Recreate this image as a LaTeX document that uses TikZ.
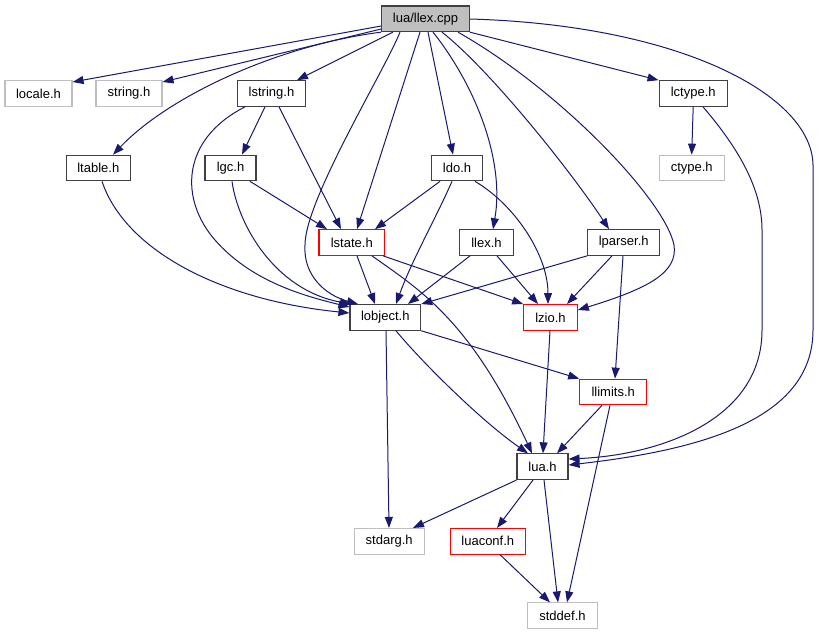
\documentclass[tikz,border=0pt]{standalone}
\usepackage{fontspec}
\setmainfont{Liberation Sans}
\usetikzlibrary{arrows.meta}
\definecolor{edgeblue}{HTML}{191970}
\definecolor{darkborder}{HTML}{404040}
\definecolor{lightborder}{HTML}{BFBFBF}
\definecolor{redborder}{HTML}{FF0000}
\definecolor{rootfill}{HTML}{BFBFBF}
\begin{document}
\begin{tikzpicture}[x=1pt,y=-1pt,
  box/.style={draw=darkborder, fill=white, line width=1.1pt, inner sep=0pt,
    minimum height=25.6pt, font=\fontsize{13}{15}\selectfont},
  redbox/.style={box, draw=redborder},
  graybox/.style={box, draw=lightborder},
  rootbox/.style={box, fill=rootfill},
  edge/.style={draw=edgeblue, line width=1pt, -{Triangle[length=11pt,width=8pt]}}]
\useasboundingbox (0,0) rectangle (819,635);
\fill[white] (0,0) rectangle (819,635);
% nodes
\node[rootbox, minimum width=87.6pt] (root) at (425.5,18.8) {lua/llex.cpp};
\node[graybox, minimum width=67pt] (locale) at (38.5,93.5) {locale.h};
\node[graybox, minimum width=66pt] (string) at (129,93.5) {string.h};
\node[box, minimum width=68.4pt] (lstring) at (271.5,93.5) {lstring.h};
\node[box, minimum width=68.3pt] (lctype) at (693.2,93.5) {lctype.h};
\node[box, minimum width=64pt] (ltable) at (98.3,168) {ltable.h};
\node[box, minimum width=51pt] (lgc) at (230.5,168) {lgc.h};
\node[box, minimum width=50.6pt] (ldo) at (457,168) {ldo.h};
\node[graybox, minimum width=65.3pt] (ctype) at (691.7,168) {ctype.h};
\node[redbox, minimum width=65.7pt] (lstate) at (351.8,242.5) {lstate.h};
\node[box, minimum width=53.6pt] (llex) at (486.5,242.5) {llex.h};
\node[box, minimum width=72pt] (lparser) at (623.7,242.5) {lparser.h};
\node[box, minimum width=70.7pt] (lobject) at (385.3,317.4) {lobject.h};
\node[redbox, minimum width=53.6pt] (lzio) at (550.5,317.4) {lzio.h};
\node[redbox, minimum width=67pt] (llimits) at (613.2,392) {llimits.h};
\node[box, minimum width=51pt] (lua) at (542.5,466.7) {lua.h};
\node[graybox, minimum width=69.7pt] (stdarg) at (389.2,541.3) {stdarg.h};
\node[redbox, minimum width=75pt] (luaconf) at (487.8,541.3) {luaconf.h};
\node[graybox, minimum width=69.6pt] (stddef) at (562.5,615.7) {stddef.h};
% edges from root
\draw[edge] (root.west |- 0,26) -- (locale.east |- 0,82);
\draw[edge] (root.west |- 0,29) -- (string.east |- 0,82);
\draw[edge] (root.south west) .. controls (280,45) and (170,95) .. (113,0 |- ltable.north);
\draw[edge] (393,0 |- root.south) -- (297,0 |- lstring.north);
\draw[edge] (400,0 |- root.south) .. controls (385,70) and (305,200) .. (305,245)
  .. controls (303,275) and (325,295) .. (358,0 |- lobject.north);
\draw[edge] (420,0 |- root.south) -- (357,0 |- lstate.north);
\draw[edge] (428,0 |- root.south) -- (453,0 |- ldo.north);
\draw[edge] (433,0 |- root.south) .. controls (475,85) and (505,160) .. (493,0 |- llex.north);
\draw[edge] (442,0 |- root.south) .. controls (490,70) and (570,170) .. (609,0 |- lparser.north);
\draw[edge] (458,0 |- root.south) .. controls (560,90) and (665,200) .. (674,245)
  .. controls (678,272) and (650,288) .. (lzio.east |- 0,310);
\draw[edge] (root.south east) -- (lctype.north west);
\draw[edge] (root.east |- 0,19) .. controls (680,25) and (812,95) .. (813,165)
  -- (813,330) .. controls (813,420) and (700,450) .. (lua.east |- 0,465);
% lstring
\draw[edge] (265,0 |- lstring.south) -- (242,0 |- lgc.north);
\draw[edge] (279,0 |- lstring.south) -- (341,0 |- lstate.north);
\draw[edge] (245,0 |- lstring.south) .. controls (180,140) and (180,200) .. (215,240)
  .. controls (250,280) and (300,295) .. (lobject.west |- 0,307);
% ltable
\draw[edge] (102,0 |- ltable.south) .. controls (125,250) and (220,300) .. (lobject.west |- 0,313);
% lgc
\draw[edge] (250,0 |- lgc.south) -- (327,0 |- lstate.north);
\draw[edge] (232,0 |- lgc.south) .. controls (238,225) and (275,290) .. (351,0 |- lobject.north);
% ldo
\draw[edge] (440,0 |- ldo.south) -- (375,0 |- lstate.north);
\draw[edge] (452,0 |- ldo.south) .. controls (435,220) and (412,260) .. (396,0 |- lobject.north);
\draw[edge] (475,0 |- ldo.south) .. controls (515,205) and (548,255) .. (548,0 |- lzio.north);
% lstate
\draw[edge] (357,0 |- lstate.south) -- (375,0 |- lobject.north);
\draw[edge] (383,0 |- lstate.south) -- (lzio.north west);
\draw[edge] (372,0 |- lstate.south) .. controls (420,290) and (470,320) .. (532,0 |- lua.north);
% llex
\draw[edge] (470,0 |- llex.south) -- (408,0 |- lobject.north);
\draw[edge] (497,0 |- llex.south) -- (538,0 |- lzio.north);
% lparser
\draw[edge] (lparser.south west) -- (lobject.north east);
\draw[edge] (612,0 |- lparser.south) -- (567,0 |- lzio.north);
\draw[edge] (623,0 |- lparser.south) -- (615,0 |- llimits.north);
% lctype
\draw[edge] (lctype.south) -- (ctype.north);
\draw[edge] (703,0 |- lctype.south) .. controls (740,150) and (762,190) .. (762,230)
  -- (762,330) .. controls (762,420) and (660,455) .. (lua.east |- 0,459);
% lobject
\draw[edge] (lobject.south east) -- (llimits.north west);
\draw[edge] (396,0 |- lobject.south) .. controls (420,360) and (480,420) .. (528,0 |- lua.north);
\draw[edge] (386,0 |- lobject.south) -- (389,0 |- stdarg.north);
% lzio, llimits
\draw[edge] (550,0 |- lzio.south) -- (543,0 |- lua.north);
\draw[edge] (602,0 |- llimits.south) -- (557,0 |- lua.north);
\draw[edge] (610,0 |- llimits.south) -- (567,0 |- stddef.north);
% lua
\draw[edge] (lua.south west) -- (413,0 |- stdarg.north);
\draw[edge] (533,0 |- lua.south) -- (497,0 |- luaconf.north);
\draw[edge] (544,0 |- lua.south) -- (558,0 |- stddef.north);
% luaconf
\draw[edge] (500,0 |- luaconf.south) -- (550,0 |- stddef.north);
\end{tikzpicture}
\end{document}
